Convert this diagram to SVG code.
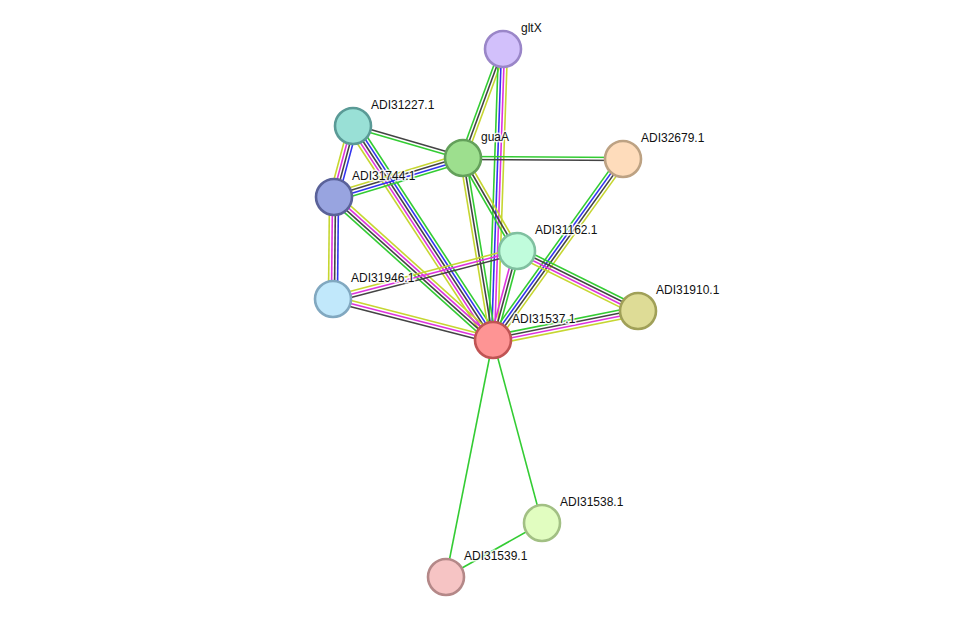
<svg xmlns="http://www.w3.org/2000/svg" width="975" height="623" viewBox="0 0 975 623">
<style>
line{stroke-width:1.6;fill:none}
.g{stroke:#33cc33}.k{stroke:#444444}.b{stroke:#3333ee}.m{stroke:#dd33dd}.y{stroke:#c6d631}
circle{stroke-width:2.6}
text{font-family:"Liberation Sans",Arial,sans-serif;font-size:12px;fill:#111;stroke:#fff;stroke-width:3;stroke-opacity:0.8;paint-order:stroke;stroke-linejoin:round}
</style>
<rect width="975" height="623" fill="#fff"/>
<g id="edges">
<g transform="translate(503 49) rotate(110.15)"><line x2="116.1" y1="3" y2="3" class="g"/><line x2="116.1" class="k"/><line x2="116.1" y1="-3" y2="-3" class="y"/></g>
<g transform="translate(503 49) rotate(91.97)"><line x2="291.2" y1="4.5" y2="4.5" class="g"/><line x2="291.2" y1="1.5" y2="1.5" class="b"/><line x2="291.2" y1="-1.5" y2="-1.5" class="m"/><line x2="291.2" y1="-4.5" y2="-4.5" class="y"/></g>
<g transform="translate(353 126) rotate(16.2)"><line x2="114.6" y1="-1.5" y2="-1.5" class="k"/><line x2="114.6" y1="1.5" y2="1.5" class="g"/></g>
<g transform="translate(353 126) rotate(105)"><line x2="73.5" y1="4.5" y2="4.5" class="y"/><line x2="73.5" y1="1.5" y2="1.5" class="m"/><line x2="73.5" y1="-1.5" y2="-1.5" class="k"/><line x2="73.5" y1="-4.5" y2="-4.5" class="b"/></g>
<g transform="translate(353 126) rotate(56.8)"><line x2="255.7" y1="6" y2="6" class="y"/><line x2="255.7" y1="3" y2="3" class="m"/><line x2="255.7" class="k"/><line x2="255.7" y1="-3" y2="-3" class="b"/><line x2="255.7" y1="-6" y2="-6" class="g"/></g>
<g transform="translate(334 197) rotate(-16.8)"><line x2="134.8" y1="-4.5" y2="-4.5" class="y"/><line x2="134.8" y1="-1.5" y2="-1.5" class="k"/><line x2="134.8" y1="1.5" y2="1.5" class="b"/><line x2="134.8" y1="4.5" y2="4.5" class="g"/></g>
<g transform="translate(334 197) rotate(90.6)"><line x2="102" y1="4.5" y2="4.5" class="y"/><line x2="102" y1="1.5" y2="1.5" class="m"/><line x2="102" y1="-1.5" y2="-1.5" class="k"/><line x2="102" y1="-4.5" y2="-4.5" class="b"/></g>
<g transform="translate(334 197) rotate(42)"><line x2="213.8" y1="-4.5" y2="-4.5" class="y"/><line x2="213.8" y1="-1.5" y2="-1.5" class="m"/><line x2="213.8" y1="1.5" y2="1.5" class="k"/><line x2="213.8" y1="4.5" y2="4.5" class="g"/></g>
<g transform="translate(463 158) rotate(0.36)"><line x2="160" y1="-1.5" y2="-1.5" class="g"/><line x2="160" y1="1.5" y2="1.5" class="k"/></g>
<g transform="translate(463 158) rotate(59.9)"><line x2="107.5" y1="3" y2="3" class="g"/><line x2="107.5" class="k"/><line x2="107.5" y1="-3" y2="-3" class="y"/></g>
<g transform="translate(463 158) rotate(80.6)"><line x2="184.5" y1="3" y2="3" class="y"/><line x2="184.5" class="k"/><line x2="184.5" y1="-3" y2="-3" class="g"/></g>
<g transform="translate(623 159) rotate(125.7)"><line x2="222.9" y1="4.5" y2="4.5" class="g"/><line x2="222.9" y1="1.5" y2="1.5" class="b"/><line x2="222.9" y1="-1.5" y2="-1.5" class="k"/><line x2="222.9" y1="-4.5" y2="-4.5" class="y"/></g>
<g transform="translate(517 251) rotate(26.4)"><line x2="135.1" y1="-4.5" y2="-4.5" class="g"/><line x2="135.1" y1="-1.5" y2="-1.5" class="k"/><line x2="135.1" y1="1.5" y2="1.5" class="m"/><line x2="135.1" y1="4.5" y2="4.5" class="y"/></g>
<g transform="translate(517 251) rotate(105.1)"><line x2="92.2" y1="3" y2="3" class="m"/><line x2="92.2" class="k"/><line x2="92.2" y1="-3" y2="-3" class="g"/></g>
<g transform="translate(638 311) rotate(168.7)"><line x2="147.9" y1="4.5" y2="4.5" class="g"/><line x2="147.9" y1="1.5" y2="1.5" class="k"/><line x2="147.9" y1="-1.5" y2="-1.5" class="m"/><line x2="147.9" y1="-4.5" y2="-4.5" class="y"/></g>
<g transform="translate(333 299) rotate(14.4)"><line x2="165.2" y1="-3" y2="-3" class="y"/><line x2="165.2" class="m"/><line x2="165.2" y1="3" y2="3" class="k"/></g>
<g transform="translate(333 299) rotate(-14.6)"><line x2="190.2" y1="-3" y2="-3" class="y"/><line x2="190.2" class="m"/><line x2="190.2" y1="3" y2="3" class="k"/></g>
<line x1="493" y1="340" x2="542" y2="523" class="g"/>
<line x1="493" y1="340" x2="446" y2="577" class="g"/>
<line x1="542" y1="523" x2="446" y2="577" class="g"/>
</g>
<g id="gltX"><circle cx="503" cy="49" r="18" fill="#d2c0fb" stroke="#9a86c8"/><text x="521" y="32">gltX</text></g>
<g id="ADI31227.1"><circle cx="353" cy="126" r="18" fill="#99e0d6" stroke="#5a9a96"/><text x="371" y="109">ADI31227.1</text></g>
<g id="guaA"><circle cx="463" cy="158" r="18" fill="#9ddf8e" stroke="#63a05a"/><text x="481" y="141">guaA</text></g>
<g id="ADI32679.1"><circle cx="623" cy="159" r="18" fill="#fedcbb" stroke="#bda283"/><text x="641" y="142">ADI32679.1</text></g>
<g id="ADI31744.1"><circle cx="334" cy="197" r="18" fill="#98a4e0" stroke="#5a6299"/><text x="352" y="180">ADI31744.1</text></g>
<g id="ADI31162.1"><circle cx="517" cy="251" r="18" fill="#c0fcdc" stroke="#80c0a0"/><text x="535" y="234">ADI31162.1</text></g>
<g id="ADI31946.1"><circle cx="333" cy="299" r="18" fill="#c1e8fb" stroke="#81a8c0"/><text x="351" y="282">ADI31946.1</text></g>
<g id="ADI31910.1"><circle cx="638" cy="311" r="18" fill="#dedc96" stroke="#a0a058"/><text x="656" y="294">ADI31910.1</text></g>
<g id="ADI31537.1"><circle cx="493" cy="340" r="18" fill="#fe9494" stroke="#c05454"/><text x="512" y="323">ADI31537.1</text></g>
<g id="ADI31538.1"><circle cx="542" cy="523" r="18" fill="#e1fdc0" stroke="#a2c084"/><text x="560" y="506">ADI31538.1</text></g>
<g id="ADI31539.1"><circle cx="446" cy="577" r="18" fill="#f6c4c4" stroke="#b48888"/><text x="464" y="560">ADI31539.1</text></g>
</svg>
